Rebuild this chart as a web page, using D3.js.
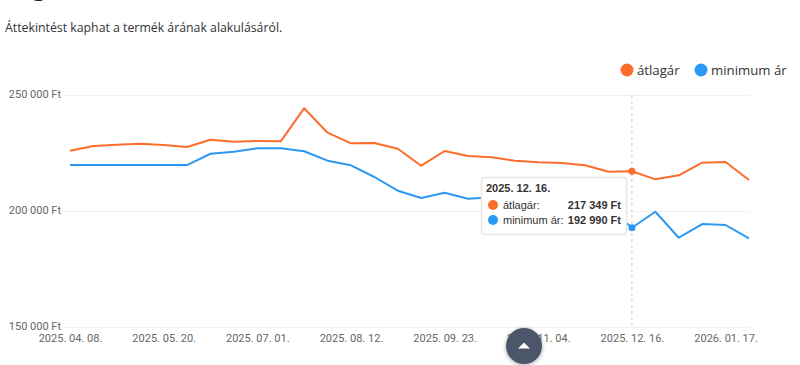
<!DOCTYPE html>
<html><head><meta charset="utf-8">
<script src="https://cdn.jsdelivr.net/npm/d3@7"></script>
<style>
html,body{margin:0;padding:0;background:#fff;overflow:hidden;}
svg{display:block;}
</style></head>
<body>
<svg id="c" width="800" height="365"></svg>
<script>
const dates = ["2025. 04. 08.","2025. 04. 18.","2025. 04. 29.","2025. 05. 09.","2025. 05. 20.","2025. 05. 30.","2025. 06. 10.","2025. 06. 20.","2025. 07. 01.","2025. 07. 11.","2025. 07. 22.","2025. 08. 01.","2025. 08. 12.","2025. 08. 22.","2025. 09. 02.","2025. 09. 12.","2025. 09. 23.","2025. 10. 03.","2025. 10. 14.","2025. 10. 24.","2025. 11. 04.","2025. 11. 14.","2025. 11. 25.","2025. 12. 05.","2025. 12. 16.","2025. 12. 24.","2026. 01. 01.","2026. 01. 09.","2026. 01. 17.","2026. 01. 25."];
const atlagar = [226200,228230,228800,229230,228660,227800,230950,230100,230390,230250,244480,233970,229400,229530,227070,219740,226080,223920,223360,221900,221210,220900,219900,217150,217349,213870,215600,221030,221340,213580];
const minimumAr = [219990,219990,219990,219990,219990,219990,224900,225800,227240,227240,225950,221900,219900,214870,208970,205820,208110,205520,206100,204600,205000,204200,203200,201800,192990,199900,188700,194600,194180,188450];
const yTicks = [150000,200000,250000];
const seriesNames = ["átlagár","minimum ár"];
const colors = ["#fc6d2c","#2b98f4"];
const hoverIndex = 24;

const svg = d3.select("#c");
const fmt = v => d3.format(",")(v).replace(/,/g," ") + " Ft";

// header (cut off at the top in the reference)
svg.append("text").attr("x",5).attr("y",-5).attr("font-family","Open Sans").attr("font-weight","bold")
  .attr("font-size",24).attr("fill","#222").text("Árgrafikon");
svg.append("text").attr("x",5).attr("y",32).attr("font-family","Open Sans").attr("font-size",12.3)
  .attr("fill","#333").text("Áttekintést kaphat a termék árának alakulásáról.");

// legend
const legend = svg.append("g").attr("font-family","Open Sans").attr("font-size",13.2).attr("fill","#333");
const legX = [627, 701];
seriesNames.forEach((n,i)=>{
  legend.append("circle").attr("cx",legX[i]).attr("cy",70).attr("r",6.5).attr("fill",colors[i]);
  legend.append("text").attr("x",legX[i]+10).attr("y",75).text(n);
});

const x = d3.scalePoint().domain(dates).range([70,749]);
const y = d3.scaleLinear().domain([150000,250000]).range([327.5,95.5]);

// grid
const grid = svg.append("g");
grid.selectAll("line").data(yTicks).join("line")
  .attr("x1",63).attr("x2",750).attr("y1",d=>y(d)).attr("y2",d=>y(d))
  .attr("stroke","#f0f0f0").attr("stroke-width",1);

// y axis
const yAxis = svg.append("g").attr("transform","translate(61,0)")
  .call(d3.axisLeft(y).tickValues(yTicks).tickSize(0).tickPadding(0).tickFormat(fmt));
yAxis.select(".domain").remove();
yAxis.selectAll("text").attr("font-family","Roboto, Arial").attr("font-size",11).attr("fill","#666").attr("dy","0.2em");

// x axis
const xAxis = svg.append("g").attr("transform","translate(0,332)")
  .call(d3.axisBottom(x).tickValues(dates.filter((d,i)=>i%4===0)).tickSize(0).tickPadding(0));
xAxis.select(".domain").remove();
xAxis.selectAll("text").attr("font-family","Roboto, Arial").attr("font-size",11).attr("fill","#666").attr("dy","0.95em");

// hover line
svg.append("line").attr("x1",x(dates[hoverIndex])).attr("x2",x(dates[hoverIndex]))
  .attr("y1",95).attr("y2",328).attr("stroke","#ccc").attr("stroke-dasharray","3,3");

// lines
const series = [atlagar, minimumAr];
const line = d3.line().x((d,i)=>x(dates[i])).y(d=>y(d));
series.forEach((s,i)=>{
  svg.append("path").datum(s).attr("d",line).attr("fill","none")
    .attr("stroke",colors[i]).attr("stroke-width",2).attr("stroke-linejoin","round");
  svg.append("circle").attr("cx",x(dates[hoverIndex])).attr("cy",y(s[hoverIndex]))
    .attr("r",3.5).attr("fill",colors[i]);
});

// tooltip
const tt = svg.append("g").attr("transform","translate(481,177)");
tt.append("rect").attr("x",0.5).attr("y",0.5).attr("width",145).attr("height",57).attr("rx",3)
  .attr("fill","#fff").attr("stroke","#e6e6e6").attr("stroke-width",1.5);
tt.append("text").attr("x",5).attr("y",15).attr("font-family","Arial, Liberation Sans").attr("font-weight","bold")
  .attr("font-size",11).attr("fill","#333").text(dates[hoverIndex]);
series.forEach((s,i)=>{
  const cy = 28 + i*15;
  tt.append("circle").attr("cx",12).attr("cy",cy).attr("r",5).attr("fill",colors[i]);
  tt.append("text").attr("x",22).attr("y",cy+4).attr("font-family","Arial, Liberation Sans").attr("font-size",11)
    .attr("fill","#333").text(seriesNames[i]+":");
  tt.append("text").attr("x",140).attr("y",cy+4).attr("text-anchor","end").attr("font-family","Arial, Liberation Sans")
    .attr("font-weight","bold").attr("font-size",11).attr("fill","#333").text(fmt(s[hoverIndex]));
});

// scroll-to-top button
const defs = svg.append("defs");
const f = defs.append("filter").attr("id","sh").attr("x","-50%").attr("y","-50%").attr("width","200%").attr("height","200%");
f.append("feDropShadow").attr("dx",0).attr("dy",1).attr("stdDeviation",2).attr("flood-color","#000").attr("flood-opacity",0.35);
svg.append("circle").attr("cx",524).attr("cy",346).attr("r",18).attr("fill","#4c5668").attr("filter","url(#sh)");
svg.append("path").attr("d","M518,348.5 L524,342.5 L530,348.5 Z").attr("fill","#fff");
</script>
</body></html>
